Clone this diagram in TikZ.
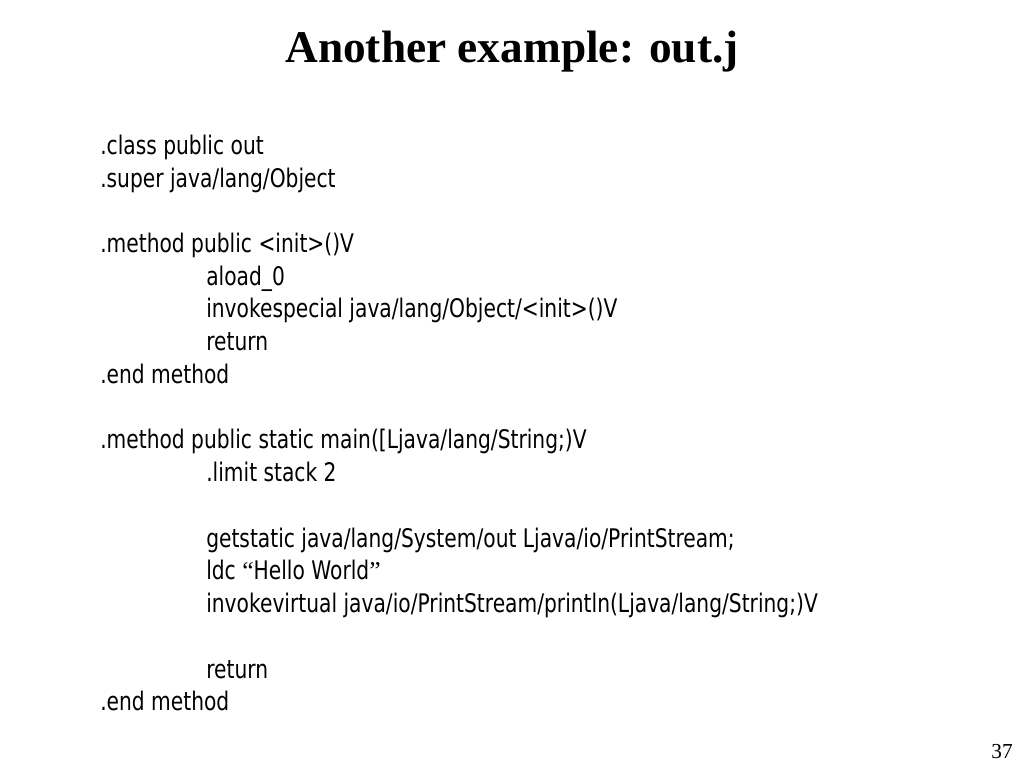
\documentclass[tikz,border=0pt]{standalone}
\usepackage{fontspec}
\setmainfont{Liberation Serif}
\newfontfamily\bodyfont[FakeStretch=0.79]{DejaVu Sans}
\begin{document}
\begin{tikzpicture}[x=0.75pt,y=-0.75pt]
\useasboundingbox (0,0) rectangle (1024,768);
\fill[white] (0,0) rectangle (1024,768);
\tikzset{
  code/.style={anchor=base west, inner sep=0pt, font=\bodyfont\fontsize{19.2}{23}\selectfont},
  titletext/.style={anchor=base, inner sep=0pt, font=\bfseries\fontsize{34}{40}\selectfont},
  pagenum/.style={anchor=base east, inner sep=0pt, font=\fontsize{16}{18}\selectfont}
}
\node[titletext] (title) at (512,62) {Another example: out.j};
\node[code] (l1) at (100,154) {.class public out};
\node[code] (l2) at (100,187) {.super java/lang/Object};
\node[code] (l3) at (100,252.3) {.method public <init>()V};
\node[code] (l4) at (206,285) {aload\_0};
\node[code] (l5) at (206,317.8) {invokespecial java/lang/Object/<init>()V};
\node[code] (l6) at (206,350.5) {return};
\node[code] (l7) at (100,383.3) {.end method};
\node[code] (l8) at (100,448.8) {.method public static main([Ljava/lang/String;)V};
\node[code] (l9) at (206,481.5) {.limit stack 2};
\node[code] (l10) at (206,547) {getstatic java/lang/System/out Ljava/io/PrintStream;};
\node[code] (l11) at (206,579.8) {ldc {\rmfamily “}Hello World{\rmfamily ”}};
\node[code] (l12) at (206,612.5) {invokevirtual java/io/PrintStream/println(Ljava/lang/String;)V};
\node[code] (l13) at (206,678) {return};
\node[code] (l14) at (100,710.8) {.end method};
\node[pagenum] (pg) at (1013,758) {37};
\end{tikzpicture}
\end{document}
